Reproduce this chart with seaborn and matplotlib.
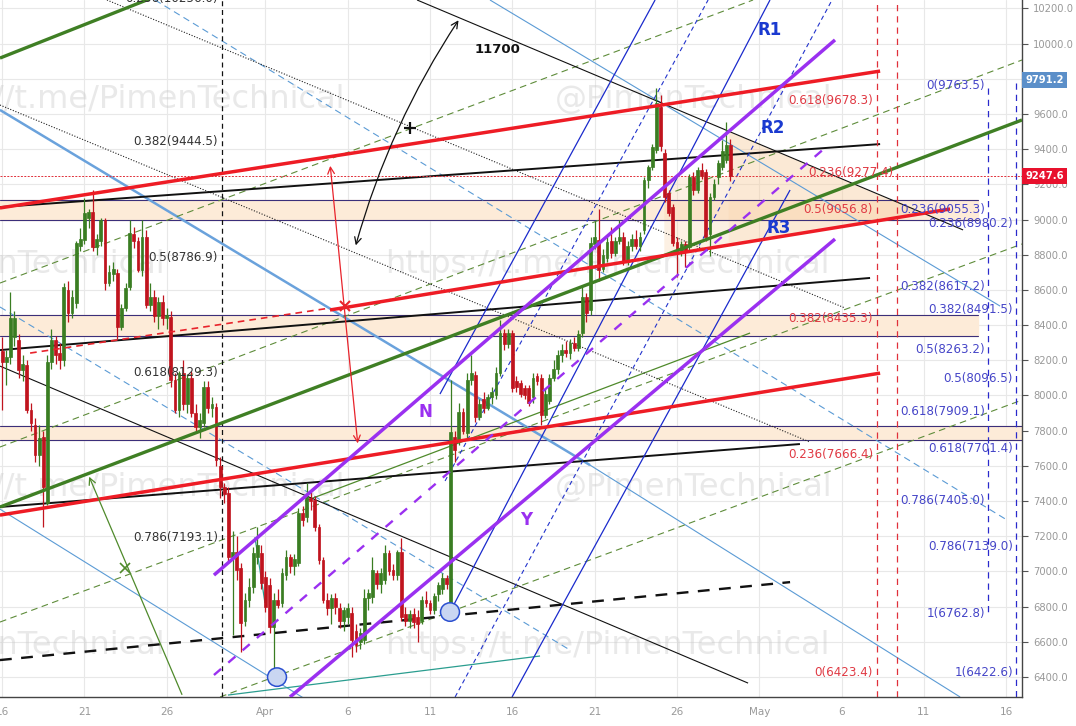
import matplotlib
matplotlib.use("Agg")
import matplotlib.pyplot as plt
import matplotlib.transforms as mtransforms
from matplotlib.patches import Ellipse
import numpy as np
import seaborn as sns

# ---------------- data ----------------
# 6-hour candles starting Mar 16 (x axis = days counted from Mar 1)
opens = [8250, 8190, 8220, 8330, 8315, 8145, 8175, 7917, 7832, 7661, 7764, 7388, 8190, 8315, 8240, 8200,
         8600, 8470, 8525, 8850, 8884, 9010, 9043, 8844, 8880, 8997, 8640, 8690, 8696, 8389, 8500, 8617,
         8920, 8880, 8713, 8900, 8514, 8560, 8450, 8530, 8440, 8446, 8088, 7917, 8127, 7950, 8099, 7900,
         7820, 7843, 8048, 7930, 7934, 7600, 7480, 7445, 7082, 7110, 7019, 6720, 6837, 6911, 7080, 7104,
         6968, 6922, 6684, 6840, 6820, 6980, 7080, 7030, 7048, 7330, 7310, 7420, 7406, 7252, 7065, 6837,
         6790, 6850, 6790, 6720, 6740, 6763, 6660, 6600, 6610, 6850, 6854, 6990, 6930, 6951, 7104, 7010,
         6980, 7110, 6760, 6720, 6760, 6740, 6720, 6840, 6820, 6780, 6870, 6900, 6960, 6763, 7764, 7747,
         7906, 7787, 8088, 8117, 7878, 7980, 7930, 7990, 8003, 8128, 8355, 8290, 8355, 8080, 8070, 8040,
         8040, 7990, 8110, 8100, 7890, 7970, 8100, 8150, 8230, 8260, 8240, 8300, 8270, 8355, 8560, 8486,
         8860, 8884, 8720, 8780, 8880, 8810, 8880, 8900, 8760, 8850, 8890, 8850, 8940, 9225, 9299, 9395,
         9640, 9378, 9151, 9071, 8870, 8820, 8860, 8844, 9242, 9170, 9280, 9270, 8920, 9130, 9242, 9300,
         9339, 9424]
highs = [8330, 8260, 8590, 8480, 8350, 8230, 8200, 7960, 7870, 7830, 7800, 8230, 8380, 8340, 8300, 8640,
         8650, 8600, 8880, 8950, 9120, 9060, 9168, 8920, 9010, 9010, 8740, 8760, 8720, 8520, 8640, 9000,
         8960, 8900, 9000, 8940, 8640, 8600, 8560, 8570, 8500, 8480, 8130, 8140, 8200, 8120, 8140, 7950,
         7900, 8080, 8080, 7990, 7960, 7650, 7500, 7480, 7230, 7200, 7050, 6880, 6960, 7140, 7250, 7150,
         7000, 6960, 6880, 6900, 7020, 7120, 7100, 7100, 7360, 7370, 7502, 7450, 7430, 7270, 7080, 6880,
         6870, 6880, 6820, 6800, 6820, 6800, 6700, 6680, 6900, 6900, 7080, 7010, 7020, 7150, 7120, 7040,
         7120, 7190, 6800, 6780, 6790, 6780, 6860, 6890, 6840, 6880, 6940, 6990, 6980, 8088, 7800, 7960,
         7930, 8130, 8230, 8140, 7980, 8020, 8010, 8050, 8160, 8429, 8380, 8380, 8370, 8110, 8090, 8060,
         8060, 8130, 8130, 8120, 8040, 8120, 8200, 8260, 8290, 8310, 8320, 8330, 8370, 8620, 8580, 8900,
         8990, 9060, 8830, 8900, 8960, 8900, 9000, 8930, 8880, 8920, 8940, 8930, 9240, 9310, 9430, 9748,
         9710, 9400, 9170, 9090, 8900, 8880, 8880, 9260, 9270, 9300, 9320, 9290, 9150, 9230, 9340, 9450,
         9555, 9460]
lows = [7920, 8060, 8180, 8280, 8100, 8080, 7900, 7800, 7620, 7600, 7252, 7380, 8150, 8180, 8150, 8170,
        8420, 8440, 8500, 8820, 8860, 8950, 8820, 8800, 8850, 8600, 8620, 8650, 8320, 8370, 8480, 8600,
        8840, 8700, 8680, 8500, 8480, 8420, 8380, 8400, 8380, 8050, 7900, 7880, 7920, 7900, 7880, 7800,
        7760, 7820, 7900, 7880, 7600, 7420, 7390, 7060, 6640, 6950, 6540, 6690, 6800, 6880, 7040, 6900,
        6770, 6650, 6425, 6790, 6800, 6950, 6990, 6980, 7030, 7260, 7280, 7350, 7230, 7040, 6820, 6750,
        6700, 6760, 6680, 6660, 6700, 6513, 6540, 6560, 6590, 6780, 6820, 6900, 6880, 6930, 6980, 6950,
        6950, 6720, 6690, 6680, 6680, 6600, 6700, 6800, 6760, 6760, 6830, 6870, 6900, 6740, 7620, 7720,
        7780, 7760, 8060, 7850, 7860, 7900, 7920, 7950, 7980, 8110, 8260, 8270, 8020, 8020, 7990, 7980,
        7940, 7960, 8060, 7830, 7870, 7950, 8080, 8120, 8190, 8220, 8210, 8250, 8250, 8330, 8420, 8460,
        8830, 8650, 8700, 8760, 8780, 8790, 8860, 8740, 8740, 8820, 8830, 8820, 8920, 9180, 9280, 9380,
        9390, 9100, 9020, 8850, 8673, 8790, 8730, 8820, 9140, 9150, 9230, 8880, 8790, 9110, 9200, 9280,
        9320, 9220]
closes = [8190, 8220, 8440, 8440, 8145, 8180, 7917, 7843, 7661, 7760, 7480, 8190, 8315, 8230, 8200, 8617,
          8470, 8560, 8867, 8890, 9037, 9043, 8844, 8890, 8997, 8640, 8700, 8720, 8389, 8500, 8610, 8923,
          8880, 8713, 8900, 8514, 8560, 8450, 8530, 8440, 8460, 8088, 7917, 8127, 7950, 8100, 7900, 7820,
          7860, 8048, 7930, 7950, 7633, 7480, 7440, 7082, 7110, 7010, 6707, 6840, 6911, 7104, 7150, 6934,
          6797, 6684, 6840, 6810, 6991, 7080, 7030, 7070, 7332, 7290, 7423, 7400, 7252, 7065, 6837, 6790,
          6850, 6800, 6720, 6780, 6790, 6610, 6580, 6650, 6848, 6880, 7008, 6930, 6990, 7104, 7000, 6980,
          7110, 6740, 6720, 6760, 6710, 6700, 6840, 6820, 6780, 6860, 6920, 6960, 6930, 7792, 7690, 7906,
          7800, 8088, 8130, 7878, 7950, 7930, 7990, 8020, 8128, 8355, 8290, 8355, 8043, 8050, 8010, 8000,
          7960, 8100, 8080, 7890, 8010, 8100, 8150, 8230, 8260, 8240, 8300, 8270, 8350, 8560, 8470, 8867,
          8900, 8713, 8800, 8870, 8810, 8880, 8900, 8760, 8850, 8890, 8850, 8900, 9225, 9299, 9412, 9662,
          9420, 9128, 9037, 8867, 8820, 8860, 8820, 9242, 9170, 9280, 9250, 8901, 9130, 9200, 9322, 9390,
          9424, 9247.6]
bar_start_day = 15.0        # Mar 16
bars_per_day = 4

x_tick_days = [15, 20, 25, 31, 36, 41, 46, 51, 56, 61, 66, 71, 76]
x_tick_labels = ['16', '21', '26', 'Apr', '6', '11', '16', '21', '26', 'May', '6', '11', '16']
y_ticks = list(range(6400, 10201, 200))
last_price = 9247.6
marker_price = 9791.2

# fib zones (price pairs)
zones = [(8997, 9111), (8338, 8457), (7747, 7828)]

# trend lines: (day, price) anchor pairs
red_lines = [((14.87, 9066), (68.34, 9844)), ((34.92, 8486), (72.59, 9060)), ((14.87, 7320), (68.34, 8127))]
red_dashed = [((16.70, 8241), (34.92, 8497))]
green_thick = [((14.87, 9918), (26.0, 10330)), ((14.87, 7366), (76.96, 9566))]
green_thin = [((33.40, 7400), (60.44, 8355))]
green_dashed = [((14.87, 8639), (60.62, 10248)), ((14.87, 7707), (76.96, 9907)),
                ((14.87, 6712), (76.96, 8861)), ((28.24, 6286), (76.96, 7974))]
purple_solid = [((27.87, 6979), (65.60, 10021)), ((32.49, 6286), (65.60, 8889))]
purple_dashed = [((27.87, 6411), (64.99, 9407))]
black_main = [((14.87, 9071), (68.34, 9429)), ((14.87, 8258), (67.73, 8668)), ((14.87, 7366), (63.47, 7724))]
black_thin = [((14.87, 8167), (60.32, 6365)), ((40.21, 10248), (73.38, 8941))]
black_dotted = [((21.37, 10248), (66.21, 8497)), ((14.87, 9651), (64.08, 7735))]
black_dashed = [((14.87, 6496), (62.87, 6939))]
lightblue_thick = [((14.87, 9623), (50.72, 7604))]
lightblue_thin = [((50.72, 7604), (73.20, 6286)), ((14.87, 7354), (33.52, 6268)), ((44.64, 10248), (75.63, 8508))]
lightblue_dashed = [((24.29, 10248), (76.05, 7292)), ((14.87, 8503), (49.50, 6553))]
# pitchfork (R1 / R2 / R3)
blue_solid = [((41.60, 8008), (54.67, 10248)), ((42.21, 6769), (61.65, 10248)), ((45.98, 6286), (62.87, 9168))]
blue_dashed = [((41.91, 7514), (57.89, 10248)), ((42.52, 6286), (65.42, 10248))]
teal_lines = [((28.72, 6297), (47.68, 6519)), ((30.36, 7195), (30.97, 6820))]

vline_black = [28.36]
vline_red = [68.15, 69.37]
vline_blue = [(74.90, 9748, 6763), (76.60, 9776, 6286)]

fib_black = [(10256.0, '0.236(10256.0)'), (9444.5, '0.382(9444.5)'), (8786.9, '0.5(8786.9)'),
             (8129.3, '0.618(8129.3)'), (7193.1, '0.786(7193.1)')]
fib_red = [(9678.3, '0.618(9678.3)'), (9056.8, '0.5(9056.8)'),
           (8435.3, '0.382(8435.3)'), (7666.4, '0.236(7666.4)'), (6423.4, '0(6423.4)')]
fib_red_shift = [(9270.0, '0.236(9277.4)')]
fib_blue_a = [(9763.5, '0(9763.5)'), (9055.3, '0.236(9055.3)'), (8617.2, '0.382(8617.2)'),
              (8263.2, '0.5(8263.2)'), (7909.1, '0.618(7909.1)'), (7405.0, '0.786(7405.0)'),
              (6762.8, '1(6762.8)')]
fib_blue_b = [(8980.2, '0.236(8980.2)'), (8491.5, '0.382(8491.5)'), (8096.5, '0.5(8096.5)'),
              (7701.4, '0.618(7701.4)'), (7139.0, '0.786(7139.0)'), (6422.6, '1(6422.6)')]

# ---------------- figure ----------------
sns.set_theme(style="white")
plt.rcParams['font.family'] = ['DejaVu Sans']
fig = plt.figure(figsize=(10.76, 7.26), dpi=100)
ax = fig.add_axes([0, 29 / 726, 1022 / 1076, 697 / 726])
XMIN, XMAX, YMIN, YMAX = 14.872, 76.96, 6286, 10248
ax.set_xlim(XMIN, XMAX)
ax.set_ylim(YMIN, YMAX)

# grid
for d in x_tick_days:
    ax.axvline(d, color='#e8e8e8', lw=0.8, zorder=0)
for p in y_ticks:
    ax.axhline(p, color='#e8e8e8', lw=0.8, zorder=0)

# watermarks
wm_kw = dict(fontsize=23, color='#c8c8c8', alpha=0.4, va='center', zorder=0.5)
for yv in (9680, 7479):
    ax.text(35.83, yv, 'https://t.me/PimenTechnical', ha='right', **wm_kw)
    ax.text(48.59, yv, '@PimenTechnical', ha='left', **wm_kw)
for yv in (8742, 6581):
    ax.text(24.9, yv, '@PimenTechnical', ha='right', **wm_kw)
    ax.text(38.26, yv, 'https://t.me/PimenTechnical', ha='left', **wm_kw)

# zones
for lo, hi in zones:
    xm = (74.3 - XMIN) / (XMAX - XMIN) if hi > 8000 else 1.0
    ax.axhspan(lo, hi, xmax=xm, color='#fdebd8', zorder=0.8)
    for v in (lo, hi):
        ax.axhline(v, xmax=xm, color='#3b2f7a', lw=0.8, zorder=1)

def line_at(seg, x):
    (x1, y1), (x2, y2) = seg
    return y1 + (y2 - y1) * (np.asarray(x) - x1) / (x2 - x1)

# peach triangle
xs = np.linspace(59.1, 71.0, 200)
upper = line_at(black_thin[1], xs)
lower = line_at(red_lines[1], xs)
ax.fill_between(xs, lower, upper, where=upper > lower, color='#f7cfa3', alpha=0.45, zorder=0.8, lw=0)
xs2 = np.linspace(55.2, 59.1, 50)
ax.fill_between(xs2, line_at(red_lines[1], xs2), last_price, color='#f7cfa3', alpha=0.3, zorder=0.8, lw=0)

def draw(segs, **kw):
    for (x1, y1), (x2, y2) in segs:
        ax.plot([x1, x2], [y1, y2], solid_capstyle='butt', **kw)

draw(lightblue_dashed, color='#5b9bd5', lw=0.8, ls=(0, (6, 4)), zorder=2)
draw(lightblue_thin, color='#5b9bd5', lw=0.8, zorder=2)
draw(lightblue_thick, color='#6aa2dc', lw=1.8, zorder=2)
draw(green_dashed, color='#5e8c3a', lw=0.8, ls=(0, (6, 4)), zorder=2)
draw(green_thin, color='#4f8a2b', lw=0.9, zorder=2)
draw(black_dotted, color='#222222', lw=0.8, ls=(0, (1, 1.5)), zorder=2)
draw(black_thin, color='#111111', lw=0.8, zorder=2)
draw(black_main, color='#111111', lw=1.4, zorder=2)
draw(black_dashed, color='#111111', lw=1.7, ls=(0, (5, 4)), zorder=2)
draw(teal_lines, color='#2a9d8f', lw=0.9, zorder=2)
draw(blue_dashed, color='#2233cc', lw=0.8, ls=(0, (4, 3)), zorder=2)
draw(blue_solid, color='#1a2acc', lw=0.9, zorder=2)

# vertical lines
for d in vline_black:
    ax.axvline(d, color='#111111', lw=0.9, ls=(0, (4, 3)), zorder=2)
for d in vline_red:
    ax.axvline(d, color='#e0303a', lw=0.9, ls=(0, (5, 4)), zorder=2)
for d, top, bot in vline_blue:
    ax.plot([d, d], [top, bot], color='#2a2acc', lw=0.9, ls=(0, (5, 4)), zorder=2)
ax.axhline(last_price, color='#e0303a', lw=0.7, ls=(0, (2, 1.5)), zorder=2)

# candles
n = len(closes)
t = bar_start_day + np.arange(n) / bars_per_day
cols = ['#3a7d22' if c >= o else '#c0141e' for o, c in zip(opens, closes)]
ax.vlines(t, lows, highs, colors=cols, lw=0.9, zorder=3)
bottoms = np.minimum(opens, closes)
heights = np.maximum(np.abs(np.array(closes) - np.array(opens)), 8)
ax.bar(t, heights, bottom=bottoms, width=0.17, color=cols, edgecolor=cols, lw=0.5, zorder=3)

# thick lines over candles
draw(red_dashed, color='#e8232b', lw=1.2, ls=(0, (4, 3)), zorder=4)
draw(green_thick, color='#3f7f24', lw=2.4, zorder=4)
draw(red_lines, color='#ee1c25', lw=2.5, zorder=4)
draw(purple_solid, color='#9a30f0', lw=2.5, zorder=4)
draw(purple_dashed, color='#9a30f0', lw=1.7, ls=(0, (4, 4)), zorder=4)

# arrows
ax.annotate('', xy=(42.82, 10146), xytext=(36.44, 8838),
            arrowprops=dict(arrowstyle='<->', color='#111111', lw=0.9,
                            connectionstyle='arc3,rad=-0.08'), zorder=5)
ax.plot([39.78], [9520], marker='+', ms=9, mew=1.6, color='#111111', zorder=5)
ax.annotate('', xy=(34.92, 9321), xytext=(36.62, 7712),
            arrowprops=dict(arrowstyle='<->', color='#e8232b', lw=0.9), zorder=5)
ax.plot([35.83], [8508], marker='x', ms=7, mew=1.5, color='#e8232b', zorder=5)
ax.annotate('', xy=(20.22, 7553), xytext=(25.99, 6286),
            arrowprops=dict(arrowstyle='->', color='#4f8a2b', lw=0.9), zorder=5)
ax.plot([22.47], [7019], marker='x', ms=7, mew=1.2, color='#4f8a2b', zorder=5)

# circles
for cx, cy in ((31.70, 6399), (42.21, 6769)):
    ax.add_patch(Ellipse((cx, cy), width=1.15, height=105, facecolor='#c9d6f2',
                         edgecolor='#2a4fd0', lw=1.1, zorder=5))

# fib labels
fk = dict(ha='right', va='center', fontsize=8.6, zorder=6)
for v, s in fib_black:
    ax.text(28.12, v, s, color='#333333', **fk)
for v, s in fib_red:
    ax.text(67.91, v, s, color='#e03a44', **fk)
for v, s in fib_red_shift:
    ax.text(69.12, v, s, color='#e03a44', **fk)
for v, s in fib_blue_a:
    ax.text(74.71, v, s, color='#4646c8', **fk)
for v, s in fib_blue_b:
    ax.text(76.41, v, s, color='#4646c8', **fk)

# big labels
big = dict(fontsize=12, fontweight='bold', ha='center', va='center', zorder=6)
ax.text(61.65, 10077, 'R1', color='#1a3ad0', **big)
ax.text(61.84, 9520, 'R2', color='#1a3ad0', **big)
ax.text(62.2, 8952, 'R3', color='#1a3ad0', **big)
ax.text(40.69, 7906, 'N', color='#9a30f0', **big)
ax.text(46.83, 7292, 'Y', color='#9a30f0', **big)
ax.text(45.07, 9964, '11700', fontsize=9.5, fontweight='bold', color='#111111',
        ha='center', va='center', zorder=6)

# axes styling
ax.yaxis.tick_right()
ax.set_yticks(y_ticks)
ax.set_yticklabels([f'{v:.1f}' for v in y_ticks])
ax.set_xticks(x_tick_days)
ax.set_xticklabels(x_tick_labels)
ax.tick_params(axis='both', colors='#555555', labelcolor='#999999', labelsize=7.5, length=4, width=0.8)
ax.tick_params(axis='y', pad=4, labelsize=7.2)
for side in ('top', 'left'):
    ax.spines[side].set_visible(False)
for side in ('right', 'bottom'):
    ax.spines[side].set_color('#444444')
    ax.spines[side].set_linewidth(1.0)

trans = mtransforms.blended_transform_factory(ax.transAxes, ax.transData)
for val, fc in ((last_price, '#e8112d'), (marker_price, '#5b8fc9')):
    ax.text(1.003, val, f'{val:.1f}', transform=trans, ha='left', va='center', fontsize=7.2,
            fontweight='bold', color='white', zorder=7,
            bbox=dict(facecolor=fc, edgecolor='none', boxstyle='square,pad=0.3'))

fig.savefig('out.png', dpi=100)
